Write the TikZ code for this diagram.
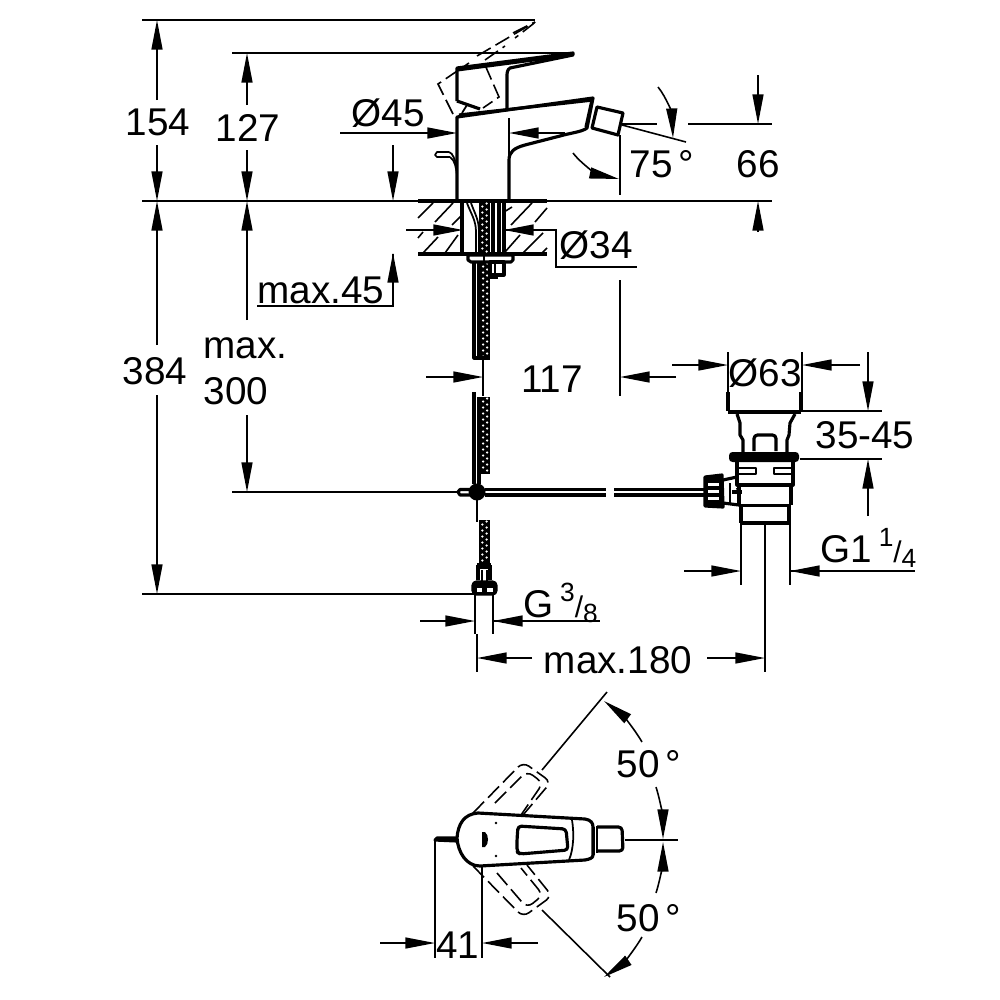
\documentclass[tikz,border=0pt]{standalone}
\usepackage{fontspec}
\setmainfont{Liberation Sans}
\usetikzlibrary{arrows.meta}
\newcommand{\upfrac}[2]{\raisebox{.75ex}{\fontsize{7.5}{8}\selectfont #1}{\fontsize{8.5}{9}\selectfont /}\raisebox{-.25ex}{\fontsize{7.5}{8}\selectfont #2}}
\newcommand{\hosemesh}[4]{%
  \fill (#1,#2) rectangle (#3,#4);
  \pgfmathtruncatemacro{\rows}{(#4-#2)/3}
  \foreach \i in {1,...,\rows}{
    \pgfmathsetmacro{\dotx}{#1+(#3-#1)*(0.3+0.4*mod(\i,2))}
    \pgfmathsetmacro{\doty}{#2+3*\i-1.5}
    \fill[white] (\dotx,\doty) circle (1.25);
  }
}
\tikzset{
  dimline/.style={line width=0.45pt},
  dimarrow/.style={line width=0.45pt, -{Triangle[length=8.4pt,width=3.1pt]}},
  dimtext/.style={font=\fontsize{11}{13}\selectfont, inner sep=0pt},
  outline/.style={line width=0.9pt, line join=round},
  fineline/.style={line width=0.5pt, line join=round},
  ghostline/.style={line width=0.45pt, dash pattern=on 4.5pt off 1.6pt},
}
\begin{document}
\begin{tikzpicture}[x=0.01cm, y=-0.01cm]
    \useasboundingbox (0,0) rectangle (1000,1000);
    % reference lines
    \draw[dimline] (142,20) -- (535,20);
    \draw[dimline] (232,53) -- (572,53);
    \draw[dimline] (142,201) -- (772,201);
    \draw[dimline] (232,492) -- (460,492);
    \draw[dimline] (142,594) -- (480,594);
    \draw[dimline] (622,124) -- (657,124);
    \draw[dimline] (688,124) -- (772,124);
    \draw[dimline] (622,125) -- (686,142);
    \draw[dimline] (620,135) -- (620,195);
    \draw[dimline] (509,118) -- (509,200);
    \draw[dimline] (620,280) -- (620,396);
    \draw[dimline] (483,358) -- (483,396);
    \draw[dimline] (257,306) -- (393,306) -- (393,254);
    \draw[dimline] (504,230) -- (556,230) -- (556,267) -- (637,267);
    \draw[dimline] (728,352) -- (728,392);
    \draw[dimline] (802,352) -- (802,392);
    \draw[dimline] (800,411) -- (882,411);
    \draw[dimline] (800,459) -- (882,459);
    \draw[dimline] (741,520) -- (741,585);
    \draw[dimline] (790,520) -- (790,585);
    \draw[dimline] (765,523) -- (765,672);
    \draw[dimline] (475,594) -- (475,634);
    \draw[dimline] (477,634) -- (477,672);
    \draw[dimline] (493,594) -- (493,634);
    \draw[dimline] (493,621) -- (600,621);
    \draw[dimline] (790,571) -- (915,571);
    % vertical dimensions
    \draw[dimarrow] (157,100) -- (157,20);
    \draw[dimarrow] (157,145) -- (157,201);
    \draw[dimarrow] (157,345) -- (157,201);
    \draw[dimarrow] (157,395) -- (157,594);
    \draw[dimarrow] (247,105) -- (247,53);
    \draw[dimarrow] (247,150) -- (247,201);
    \draw[dimarrow] (247,320) -- (247,201);
    \draw[dimarrow] (247,415) -- (247,492);
    \draw[dimarrow] (393,145) -- (393,201);
    \draw[dimarrow] (393,306) -- (393,253);
    \draw[dimarrow] (758,75) -- (758,124);
    \draw[dimarrow] (758,232) -- (758,201);
    \draw[dimarrow] (868,352) -- (868,411);
    \draw[dimarrow] (868,516) -- (868,459);
    % horizontal dimensions
    \draw[dimarrow] (340,133) -- (457,133);
    \draw[dimarrow] (565,133) -- (509,133);
    \draw[dimarrow] (406,230) -- (463,230);
    \draw[dimarrow] (556,230) -- (504,230);
    \draw[dimarrow] (426,377) -- (483,377);
    \draw[dimarrow] (676,377) -- (620,377);
    \draw[dimarrow] (672,365) -- (728,365);
    \draw[dimarrow] (860,365) -- (802,365);
    \draw[dimarrow] (684,571) -- (741,571);
    \draw[dimarrow] (848,571) -- (790,571);
    \draw[dimarrow] (420,621) -- (475,621);
    \draw[dimarrow] (550,621) -- (493,621);
    \draw[dimarrow] (532,658) -- (477,658);
    \draw[dimarrow] (707,658) -- (765,658);
    \draw[dimarrow] (380,943) -- (435,943);
    \draw[dimarrow] (538,943) -- (482,943);
    % angle arcs
    \draw[dimarrow] (658,87) .. controls (667,98) and (672,115) .. (673,138);
    \draw[dimarrow] (573,153) .. controls (583,166) and (600,175) .. (619,179);
    \draw[dimarrow] (642,742) .. controls (632,725) and (620,713) .. (604,701);
    \draw[dimarrow] (656,787) .. controls (661,803) and (663,820) .. (663,839);
    \draw[dimarrow] (656,893) .. controls (661,877) and (663,860) .. (663,842);
    \draw[dimarrow] (642,937) .. controls (632,954) and (620,966) .. (604,977);
    % labels
    \node[dimtext] (lab154) at (158,122) {154};
    \node[dimtext] (lab127) at (248,128) {127};
    \node[dimtext] (lab384) at (155,371) {384};
    \node[dimtext, anchor=west] (labmax) at (203,348) {max.};
    \node[dimtext, anchor=west] (lab300) at (203,391) {300};
    \node[dimtext] (labd45) at (388,113) {Ø45};
    \node[dimtext] (lab75) at (662,164) {75\,°};
    \node[dimtext] (lab66) at (758,164) {66};
    \node[dimtext] (labd34) at (596,245) {Ø34};
    \node[dimtext] (labmax45) at (321,290) {max.45};
    \node[dimtext] (lab117) at (552,379) {117};
    \node[dimtext] (labd63) at (765,373) {Ø63};
    \node[dimtext] (lab3545) at (865,435) {35-45};
    \node[dimtext, anchor=west] (labg114) at (820,548) {G1\,\upfrac{1}{4}};
    \node[dimtext, anchor=west] (labg38) at (523,603) {G\,\upfrac{3}{8}};
    \node[dimtext] (labmax180) at (618,660) {max.180};
    \node[dimtext] (lab50a) at (649,764) {50\,°};
    \node[dimtext] (lab50b) at (649,918) {50\,°};
    \node[dimtext] (lab41) at (458,945) {41};
    % tap side view
    \draw[outline] (457,200) -- (457,117) -- (593,98) -- (587,128) .. controls (582,132) and (570,133) .. (560,136) -- (525,145) .. controls (514,148) and (509,152) .. (509,160) -- (509,200);
    \draw[outline] (459,115) -- (593,100);
    \draw[outline] (592,100) -- (586,127);
    \draw[outline] (597,107) -- (623,113) -- (618,135) -- (592,128) -- cycle;
    \draw[outline] (457,101) -- (457,68) -- (573,53) -- (573,55) -- (510,68) .. controls (507,70) and (507,73) .. (507,77) -- (507,108);
    \draw[outline] (457,70) -- (571,55);
    \draw[outline] (457,101) -- (480,109);
    \draw[fineline] (462,113) -- (467,105);
    \draw[fineline] (450,157) .. controls (455,160) and (456,168) .. (457,175);
    \draw[fineline] (449,152) .. controls (453,153) and (455,160) .. (457,168);
    \draw[fineline] (450,157) -- (437,157) -- (435,155) -- (437,152) -- (449,152);
    \draw[ghostline] (453,114) -- (438,84) -- (469,63);
    \draw[ghostline] (477,56) -- (535,22);
    \draw[ghostline] (535,22) -- (533,24) -- (515,38);
    \draw[ghostline] (513,33) -- (533,23);
    \draw[ghostline] (485,60) -- (505,46);
    \draw[ghostline] (485,65) -- (499,97) -- (483,108);
    % counter section
    \draw[outline] (418,201) -- (547,201);
    \draw[outline] (418,254) -- (547,254);
    \draw[outline] (462,201) -- (462,254);
    \draw[outline] (504,201) -- (504,254);
    \draw[outline] (493,201) -- (493,254);
    \draw[outline] (499,201) -- (499,254);
    \draw[fineline] (467,203) .. controls (471,214) and (476,220) .. (476,232) -- (476,254);
    \draw[fineline] (471,203) .. controls (475,214) and (479,220) .. (479,232) -- (479,254);
    \foreach \xa/\ya/\xb/\yb in {433/203/418/218, 453/203/435/222, 462/215/452/225, 438/237/423/253, 458/235/445/253, 423/232/418/238, 512/207/504/212, 532/203/511/225, 547/208/535/222, 520/235/505/252, 543/233/523/253, 547/248/542/253}
      \draw[dimline] (\xa,\ya) -- (\xb,\yb);
    % hose with braid
    \hosemesh{479}{202}{490}{254}
    \hosemesh{480}{262}{490}{358}
    \hosemesh{480}{397}{490}{474}
    \hosemesh{479}{520}{490}{564}
    \draw[outline] (468,255) -- (468,260) -- (471,262) -- (511,262) -- (513,260) -- (513,255) -- cycle;
    \draw[fineline] (484,255) -- (484,262);
    \draw[outline] (490,262) rectangle (504,275);
    \draw[fineline] (495,262) -- (495,275);
    \draw[outline] (490,277) -- (498,277);
    \draw[outline] (474,262) -- (474,358) -- (490,358);
    \draw[outline] (479,262) -- (479,358);
    \draw[outline] (474,392) -- (474,484);
    \draw[outline] (479,397) -- (479,484);
    \draw[dimline] (477,500) -- (477,522);
    % tee with drain rod
    \draw[outline] (472,489.5) -- (460,489.5) -- (458,492) -- (460,495) -- (472,495);
    \fill (477,492) circle (8.5);
    \draw[outline] (485,489.5) -- (606,489.5);
    \draw[outline] (485,495) -- (606,495);
    \draw[outline] (614,489.5) -- (704,489.5);
    \draw[outline] (614,495) -- (704,495);
    % angle valve end
    \fill (477,563) rectangle (491,569);
    \draw[outline] (478,565) -- (478,580);
    \draw[outline] (490,565) -- (490,580);
    \draw[fineline] (482,570) -- (482,582);
    \draw[fineline] (487,570) -- (487,582);
    \draw[outline, fill=black, rounded corners=1pt] (473,582) rectangle (496,594);
    \fill[white] (477,588) rectangle (482,592);
    \fill[white] (487,588) rectangle (493,592);
    % waste set
    \draw[outline] (728,392) -- (728,411);
    \draw[outline] (801,392) -- (801,411);
    \draw[line width=1.4pt] (728,412) -- (801,412);
    \draw[outline] (737,414) -- (740,423) -- (740,435) -- (743,440) -- (743,452);
    \draw[outline] (795,414) -- (790,423) -- (789,435) -- (787,440) -- (787,452);
    \draw[outline, rounded corners=1pt] (754,451) -- (754,435) -- (776,435) -- (776,451);
    \fill[rounded corners=1pt] (729,452) rectangle (799,462);
    \draw[outline] (737,462) -- (737,485) -- (793,485) -- (793,462);
    \draw[fineline] (738,468) rectangle (756,474);
    \draw[fineline] (774,468) rectangle (792,474);
    \draw[outline] (739,485) -- (739,505);
    \draw[outline] (791,485) -- (791,505);
    \draw[line width=1.1pt] (739,505.5) -- (791,505.5);
    \draw[outline] (741,505) -- (741,523);
    \draw[outline] (789,505) -- (789,523);
    \draw[line width=1.1pt] (740,523) -- (790,523);
    \draw[outline, fill=black] (705,477) -- (722,475) -- (723,507) -- (705,506) -- cycle;
    \foreach \ty in {483,490,497}
      \fill[white] (708,\ty) rectangle (719,\ty+3);
    \draw[outline] (723,480) -- (737,477);
    \draw[outline] (723,503) -- (739,505);
    \draw[fineline] (730,483) -- (730,503);
    \draw[outline] (732,492) -- (742,492);
    \draw[fineline] (737,488) -- (739,496);
    % tap top view
    \draw[outline] (457,838) .. controls (458,824) and (464,814) .. (478,813) -- (585,819) .. controls (591,820) and (593,823) .. (593,827) -- (593,855) .. controls (593,858) and (590,859) .. (585,860) -- (480,866) .. controls (466,866) and (458,852) .. (457,838) -- cycle;
    \draw[fineline] (572,820) .. controls (574,832) and (574,848) .. (569,860);
    \draw[outline, rounded corners=1pt] (517,840) -- (518,826) -- (566,829) -- (568,850) -- (520,854) -- (517,852) -- cycle;
    \fill (482,832) -- (485,832) .. controls (489,835) and (489,844) .. (485,847) -- (482,847) -- cycle;
    \fill (496,823) circle (1.3);
    \fill (496,856) circle (1.3);
    \draw[fineline] (594,827) -- (594,855);
    \draw[fineline] (597,826) -- (597,853);
    \draw[outline, rounded corners=1pt] (597,827) -- (622,827) -- (623,851) -- (597,851);
    \draw[dimline] (625,840) -- (678,840);
    \draw[outline] (457,838) -- (437,838) -- (435,840) -- (457,841);
    \draw[dimline] (435,840) -- (435,958);
    \draw[dimline] (482,867) -- (482,958);
    % swing positions of the handle
    \draw[ghostline, rounded corners=2pt] (473,813) -- (523,762) -- (551,782) -- (523,815);
    \draw[ghostline, rounded corners=2pt] (495,803) -- (527,771) -- (543,783) -- (521,815);
    \draw[ghostline, rounded corners=2pt] (473,866) -- (523,917) -- (552,896) -- (527,865);
    \draw[ghostline, rounded corners=2pt] (497,873) -- (527,908) -- (543,895) -- (521,868);
    \draw[dimline] (542,770) -- (607,692);
    \draw[dimline] (542,910) -- (610,977);
\end{tikzpicture}
\end{document}
